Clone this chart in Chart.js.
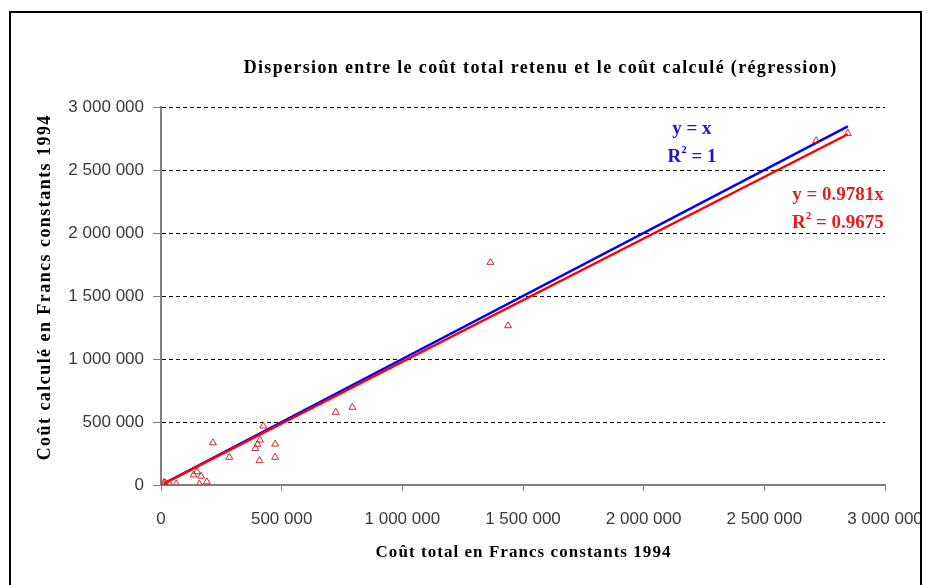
<!DOCTYPE html>
<html>
<head>
<meta charset="utf-8">
<script src="https://cdn.jsdelivr.net/npm/chart.js@4.4.1/dist/chart.umd.min.js"></script>
<style>
html,body{margin:0;padding:0;background:#fff;}
#wrap{width:927px;height:585px;position:relative;}
</style>
</head>
<body>
<div id="wrap"><canvas id="c" width="927" height="585"></canvas></div>
<script>
// ---- data ----
const chartTitle = "Dispersion entre le coût total retenu et le coût calculé (régression)";
const xAxisTitle = "Coût total en Francs constants 1994";
const yAxisTitle = "Coût calculé en Francs constants 1994";
const coutRetenu = [12000, 17000, 35000, 63000, 135000, 149000, 166000, 159000, 190000, 215000, 283000, 391000, 400000, 410000, 424000, 408000, 473000, 473000, 724000, 793000, 1365000, 1438000, 2715000, 2846000];
const coutCalcule = [20000, 18000, 8000, 8000, 80000, 105000, 70000, 8000, 25000, 335000, 220000, 290000, 323000, 357000, 468000, 193000, 325000, 220000, 577000, 617000, 1767000, 1264000, 2732000, 2791000];
const tickValues = [0, 500000, 1000000, 1500000, 2000000, 2500000, 3000000];
const identitySlope = 1;
const regressionSlope = 0.9781;
const identityLabel = ["y = x", "R2 = 1"];
const regressionLabel = ["y = 0.9781x", "R2 = 0.9675"];

const points = coutRetenu.map((x, i) => ({x: x, y: coutCalcule[i]}));
const xMin = Math.min(...coutRetenu), xMax = Math.max(...coutRetenu);
const identityLine = [{x: xMin, y: xMin * identitySlope}, {x: xMax, y: xMax * identitySlope}];
const regressionLine = [{x: xMin, y: xMin * regressionSlope}, {x: xMax, y: xMax * regressionSlope}];

const fmt = v => String(Math.round(v)).replace(/\B(?=(\d{3})+(?!\d))/g, " ");
const serif = "'Liberation Serif', 'Times New Roman', serif";
const sans = "'Liberation Sans', Arial, sans-serif";

// draws equation text, with superscript 2 after R
function drawEq(ctx, text, x, y, align, color, size) {
  ctx.save();
  ctx.fillStyle = color;
  ctx.textBaseline = 'middle';
  const font = 'bold ' + size + 'px ' + serif;
  const supFont = 'bold ' + Math.round(size * 0.6) + 'px ' + serif;
  let parts;
  if (text.startsWith('R2')) {
    parts = [{t: 'R', f: font, dy: 0}, {t: '2', f: supFont, dy: -size * 0.4}, {t: text.slice(2), f: font, dy: 0}];
  } else {
    parts = [{t: text, f: font, dy: 0}];
  }
  let w = 0;
  parts.forEach(p => { ctx.font = p.f; p.w = ctx.measureText(p.t).width; w += p.w; });
  let sx = align === 'right' ? x - w : (align === 'center' ? x - w / 2 : x);
  ctx.textAlign = 'left';
  parts.forEach(p => { ctx.font = p.f; ctx.fillText(p.t, sx, y + p.dy); sx += p.w; });
  ctx.restore();
}

function spacedText(ctx, text, x, y, font, spacing, rotate) {
  ctx.save();
  ctx.font = font;
  ctx.fillStyle = '#000';
  ctx.textAlign = 'left';
  ctx.textBaseline = 'middle';
  ctx.letterSpacing = spacing + 'px';
  const w = ctx.measureText(text).width - spacing;
  ctx.translate(x, y);
  if (rotate) ctx.rotate(-Math.PI / 2);
  ctx.fillText(text, -w / 2, 0);
  ctx.restore();
}

const decor = {
  id: 'decor',
  afterDraw(chart) {
    const ctx = chart.ctx;
    const xs = chart.scales.x, ys = chart.scales.y;
    const area = chart.chartArea;
    ctx.save();
    ctx.strokeStyle = '#000';
    ctx.lineWidth = 2;
    ctx.strokeRect(10, 12, 911, 600);
    ctx.restore();
    // titles
    spacedText(ctx, chartTitle, 540, 68, 'bold 18px ' + serif, 1.35, false);
    spacedText(ctx, xAxisTitle, (area.left + area.right) / 2, 553, 'bold 17px ' + serif, 1.05, false);
    spacedText(ctx, yAxisTitle, 45, (area.top + area.bottom) / 2 - 8, 'bold 18px ' + serif, 1.45, true);
    // equation labels anchored on the scales
    const bx = xs.getPixelForValue(2200000);
    drawEq(ctx, identityLabel[0], bx, ys.getPixelForValue(2825000), 'center', '#1414d2', 19);
    drawEq(ctx, identityLabel[1], bx, ys.getPixelForValue(2600000), 'center', '#1414d2', 19);
    const rx = xs.getPixelForValue(2995000);
    drawEq(ctx, regressionLabel[0], rx, ys.getPixelForValue(2300000), 'right', '#e41e1e', 19);
    drawEq(ctx, regressionLabel[1], rx, ys.getPixelForValue(2076000), 'right', '#e41e1e', 19);
  }
};

new Chart(document.getElementById('c'), {
  type: 'scatter',
  data: {
    datasets: [
      {
        label: 'points',
        data: points,
        pointStyle: 'triangle',
        pointRadius: 4,
        pointBorderWidth: 1,
        borderColor: '#cc2a2a',
        backgroundColor: 'rgba(255,255,255,0)',
        order: 1
      },
      {
        label: 'y = x',
        type: 'line',
        data: identityLine,
        borderColor: '#0000ff',
        borderWidth: 2.5,
        pointRadius: 0,
        fill: false,
        order: 3
      },
      {
        label: 'regression',
        type: 'line',
        data: regressionLine,
        borderColor: '#ff0000',
        borderWidth: 2.5,
        pointRadius: 0,
        fill: false,
        order: 2
      }
    ]
  },
  options: {
    responsive: false,
    animation: false,
    devicePixelRatio: 1,
    layout: {padding: {top: 107, right: 42, bottom: 0, left: 0}},
    plugins: {legend: {display: false}, tooltip: {enabled: false}, title: {display: false}},
    scales: {
      x: {
        type: 'linear',
        min: 0, max: 3000000,
        afterBuildTicks: s => { s.ticks = tickValues.map(v => ({value: v})); },
        afterFit: s => { s.height = 100; s.paddingLeft = 0; s.paddingRight = 0; },
        border: {color: '#808080', width: 2},
        grid: {drawOnChartArea: false, drawTicks: true, tickLength: 6, tickColor: '#808080', lineWidth: 1},
        ticks: {callback: v => fmt(v), color: '#3a3a3a', font: {family: sans, size: 17}, padding: 18, maxRotation: 0},
        title: {display: false}
      },
      y: {
        type: 'linear',
        min: 0, max: 3000000,
        afterBuildTicks: s => { s.ticks = tickValues.map(v => ({value: v})); },
        afterFit: s => { s.width = 161; s.paddingTop = 0; s.paddingBottom = 0; },
        border: {color: '#808080', width: 2, dash: [4, 3]},
        grid: {
          color: c => (c.tick && c.tick.value === 0) ? 'rgba(0,0,0,0)' : '#000',
          lineWidth: 1,
          drawTicks: true, tickLength: 8, tickColor: '#808080', tickBorderDash: []
        },
        ticks: {callback: v => fmt(v), color: '#3a3a3a', font: {family: sans, size: 17}, padding: 9},
        title: {display: false}
      }
    }
  },
  plugins: [decor]
});
</script>
</body>
</html>
